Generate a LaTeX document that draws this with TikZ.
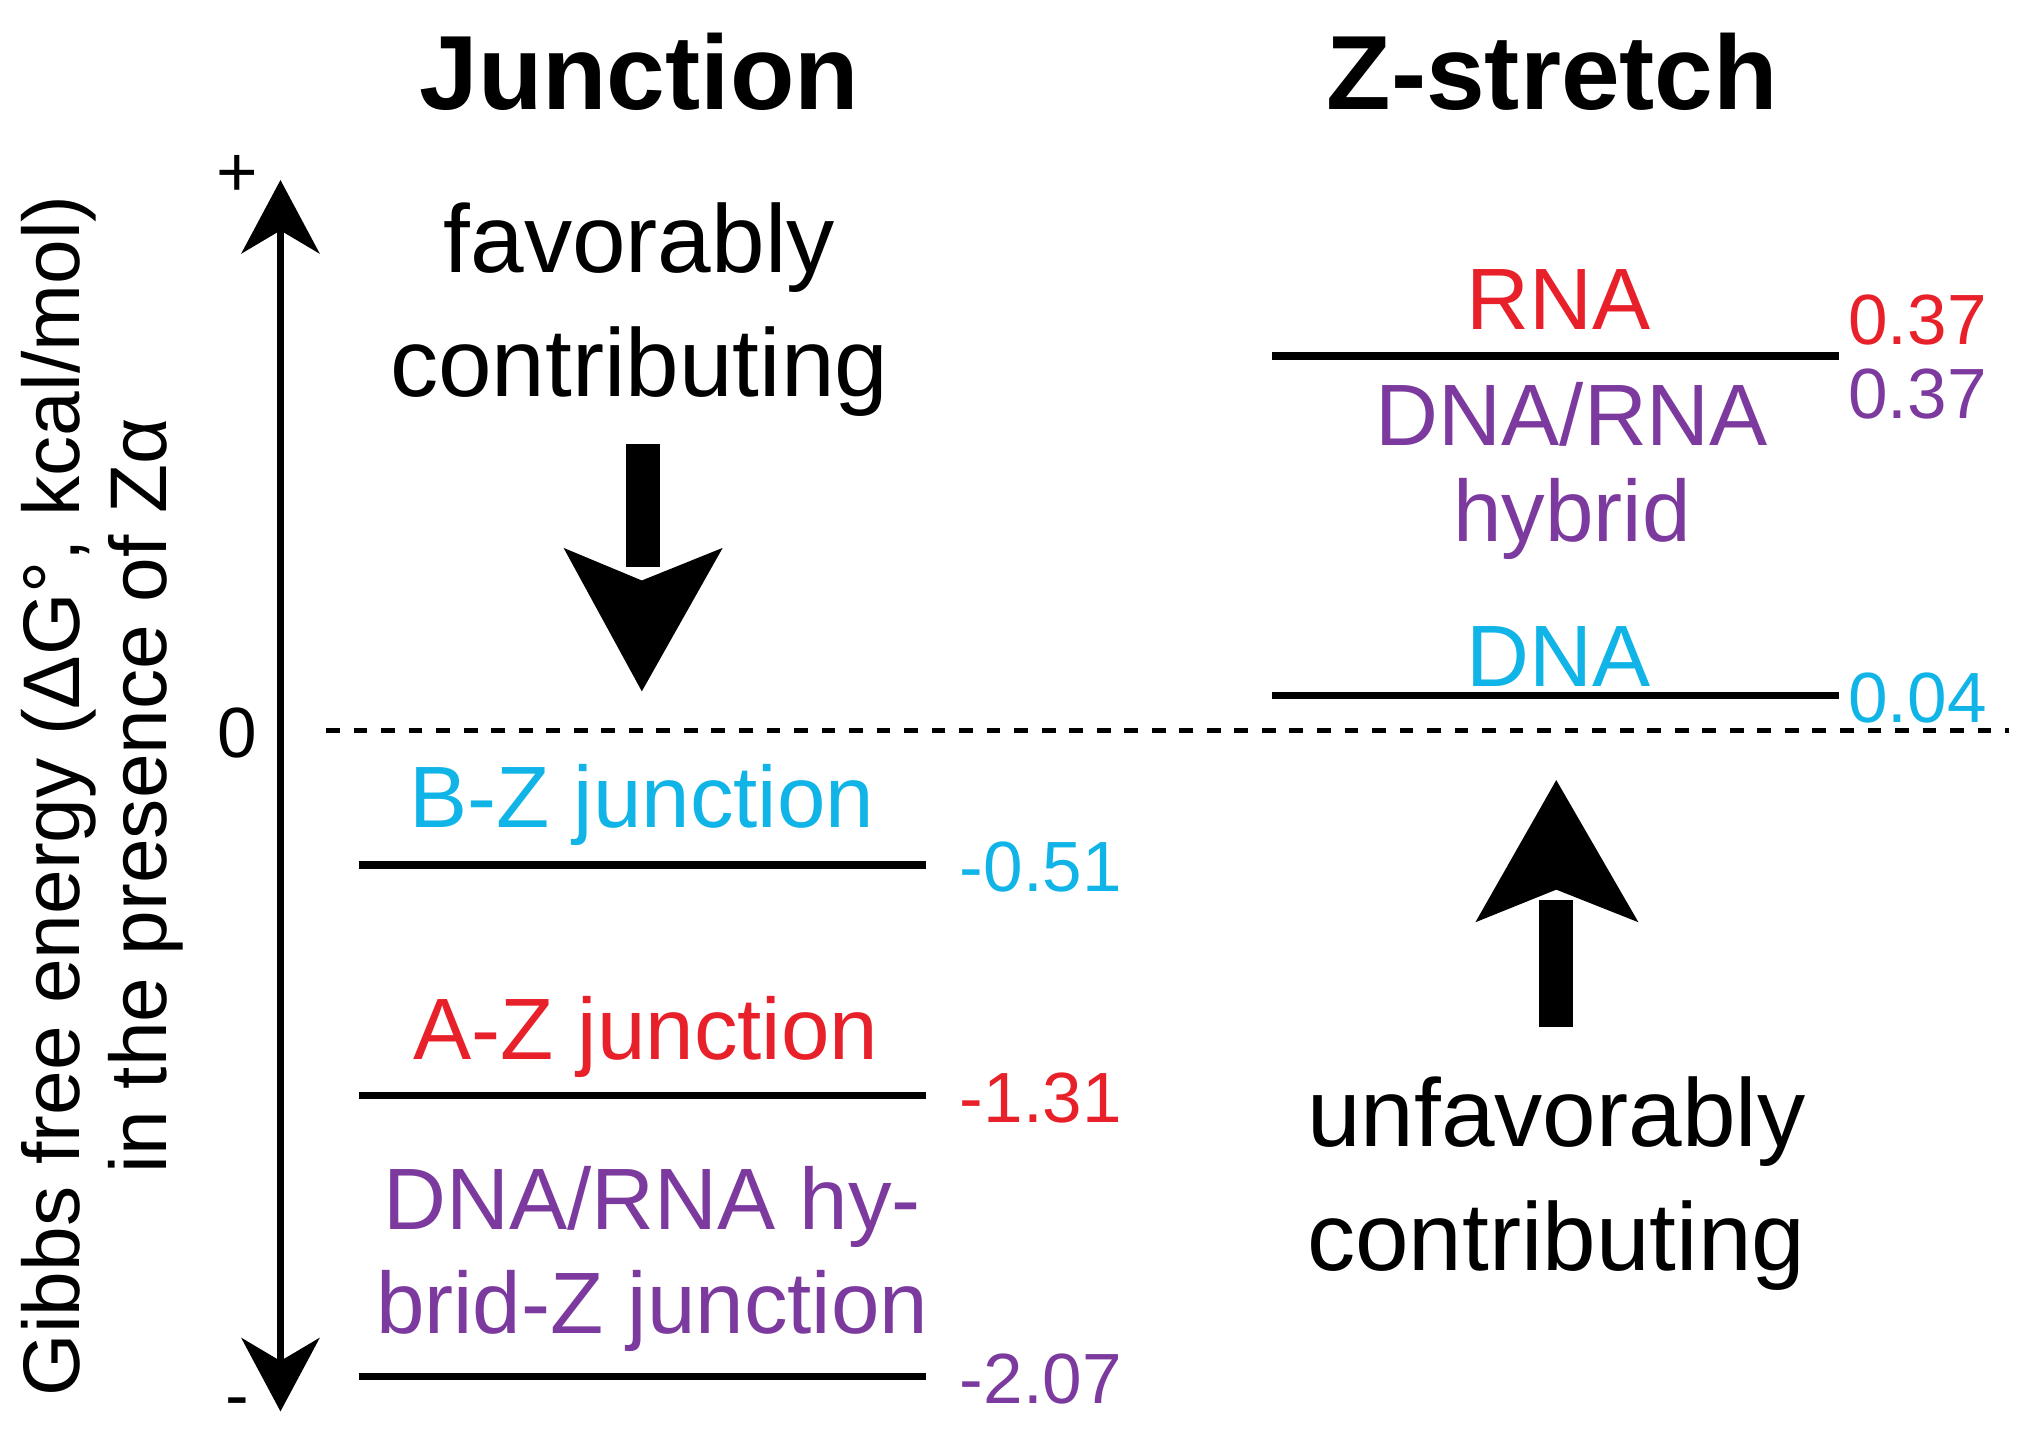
\documentclass[tikz,border=0pt]{standalone}
\usepackage{fontspec}
\setmainfont{Liberation Sans}
\usetikzlibrary{arrows.meta}
\definecolor{cred}{HTML}{E8202A}
\definecolor{ccyan}{HTML}{10B4E6}
\definecolor{cpur}{HTML}{7D3A9E}
\begin{document}
\begin{tikzpicture}[x=0.01cm,y=-0.01cm,
  title/.style={font=\fontsize{23}{27}\selectfont\bfseries},
  big/.style={font=\fontsize{21}{25}\selectfont},
  lab/.style={font=\fontsize{19}{23}\selectfont},
  val/.style={font=\fontsize{15.5}{18}\selectfont},
  lvl/.style={line width=1.6pt}]
\useasboundingbox (0,0) rectangle (1560,1098);
\node[title] (tj) at (490,55) {Junction};
\node[title] (tz) at (1190,55) {Z-stretch};
% axis
\coordinate (atop) at (215,138);
\coordinate (abot) at (215,1082);
\draw[line width=1.6pt,{Stealth[width=17pt,length=16pt,inset=5pt]}-{Stealth[width=17pt,length=16pt,inset=5pt]}] (abot) -- (atop);
\node[val] (plus) at (182,135) {+};
\node[val] (minus) at (182,1080) {-};
\node[val] (zero) at (182,562) {0};
\node[font=\fontsize{17.5}{21}\selectfont,rotate=90] (yl1) at (45,610) {Gibbs free energy (ΔG°, kcal/mol)};
\node[font=\fontsize{17.5}{21}\selectfont,rotate=90] (yl2) at (112,610) {in the presence of Zα};
% dashed zero
\coordinate (d1) at (250,560); \coordinate (d2) at (1540,560);
\draw[dashed,line width=1pt] (d1) -- (d2);
% favorably
\node[big] (fav1) at (490,190) {favorably};
\node[big] (fav2) at (490,285) {contributing};
\fill (480,340) rectangle (506,435);
\fill (432,420) -- (492,445) -- (554,420) -- (492,530) -- cycle;
\node[big] (unf1) at (1193,860) {unfavorably};
\node[big] (unf2) at (1193,955) {contributing};
\fill (1180,787) rectangle (1206,690);
\fill (1131,707) -- (1193,682) -- (1256,707) -- (1193,598) -- cycle;
% junction levels
\coordinate (j1a) at (275,663); \coordinate (j1b) at (710,663);
\coordinate (j2a) at (275,840); \coordinate (j2b) at (710,840);
\coordinate (j3a) at (275,1055); \coordinate (j3b) at (710,1055);
\draw[lvl] (j1a) -- (j1b); \draw[lvl] (j2a) -- (j2b); \draw[lvl] (j3a) -- (j3b);
\node[lab,text=ccyan] (bz) at (492,617) {B-Z junction};
\node[lab,text=cred] (az) at (495,795) {A-Z junction};
\node[lab,text=cpur] (hz1) at (500,925) {DNA/RNA hy-};
\node[lab,text=cpur] (hz2) at (500,1005) {brid-Z junction};
\node[val,text=ccyan] (v1) at (798,665) {-0.51};
\node[val,text=cred] (v2) at (798,842) {-1.31};
\node[val,text=cpur] (v3) at (798,1057) {-2.07};
% z-stretch levels
\coordinate (z1a) at (975,273); \coordinate (z1b) at (1410,273);
\coordinate (z2a) at (975,533); \coordinate (z2b) at (1410,533);
\draw[lvl] (z1a) -- (z1b); \draw[lvl] (z2a) -- (z2b);
\node[lab,text=cred] (rna) at (1195,230) {RNA};
\node[lab,text=cpur] (h1) at (1205,318) {DNA/RNA};
\node[lab,text=cpur] (h2) at (1205,398) {hybrid};
\node[lab,text=ccyan] (dna) at (1195,503) {DNA};
\node[val,text=cred] (w1) at (1470,245) {0.37};
\node[val,text=cpur] (w2) at (1470,302) {0.37};
\node[val,text=ccyan] (w3) at (1470,535) {0.04};
\end{tikzpicture}
\end{document}
